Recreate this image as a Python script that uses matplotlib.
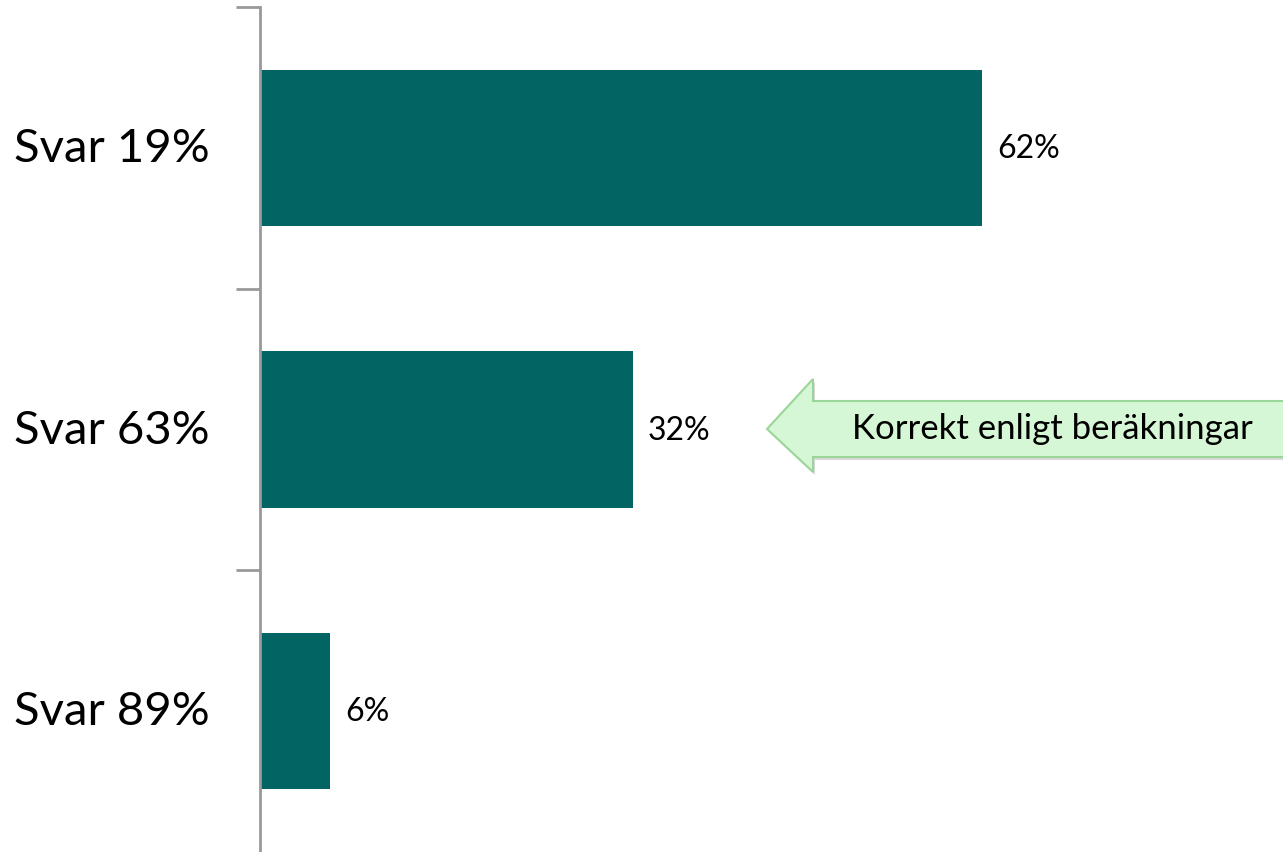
import matplotlib.pyplot as plt
from matplotlib.patches import Polygon

categories = ["Svar 19%", "Svar 63%", "Svar 89%"]
values = [62, 32, 6]
value_labels = ["62%", "32%", "6%"]
note = "Korrekt enligt beräkningar"

W, H = 1283, 853
fig = plt.figure(figsize=(W / 100, H / 100), dpi=100)
plt.rcParams["font.family"] = ["Lato", "DejaVu Sans"]

ax = fig.add_axes([260 / W, 0, 1 - 260 / W, 1 - 8 / H])
pos = list(range(len(categories)))
ax.barh(pos, values, height=0.555, color="#036563")
ax.set_ylim(len(categories) - 0.5, -0.5)
ax.set_xlim(0, 87.8)

# category labels, left of the axis
for p, cat in zip(pos, categories):
    ax.text(-4.3, p, cat, ha="right", va="center", fontsize=34, color="black")
for p, v, lab in zip(pos, values, value_labels):
    ax.text(v + 1.3, p, lab, ha="left", va="center", fontsize=23, color="black")

ax.set_yticks([-0.5, 0.5, 1.5])
ax.set_yticklabels([])
ax.set_xticks([])
for s in ["top", "right", "bottom"]:
    ax.spines[s].set_visible(False)
ax.spines["left"].set_color("#999999")
ax.spines["left"].set_linewidth(2)
ax.tick_params(axis="y", length=17, width=2, color="#999999")

# callout arrow (pixel positions, y from top)
pts = [(767, 430), (813, 380), (813, 402), (1290, 402), (1290, 458),
       (813, 458), (813, 473)]
pts = [(x / W, 1 - y / H) for x, y in pts]
shadow = Polygon([(x + 2 / W, y - 3 / H) for x, y in pts], closed=True,
                 transform=fig.transFigure, facecolor="#d8d8d8", edgecolor="none")
fig.patches.append(shadow)
arrow = Polygon(pts, closed=True, transform=fig.transFigure,
                facecolor="#d6f7d6", edgecolor="#9ad69a", linewidth=1.5)
fig.patches.append(arrow)
fig.text(1052 / W, 1 - 429 / H, note, ha="center", va="center",
         fontsize=25, color="black")

fig.savefig("out.png", dpi=100)
